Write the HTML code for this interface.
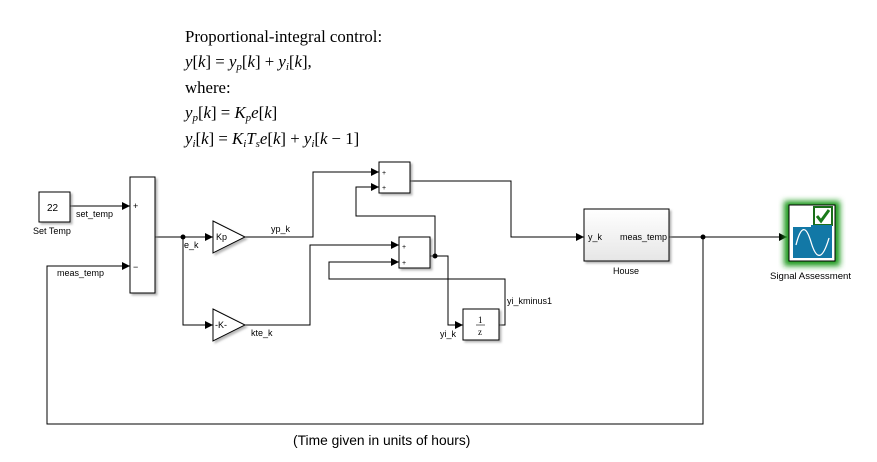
<!DOCTYPE html>
<html><head><meta charset="utf-8"><style>
html,body{margin:0;padding:0;background:#fff;}
svg{display:block;}
.s{font-family:"Liberation Sans",sans-serif;font-size:9px;fill:#000;}
.eq{font-family:"Liberation Serif",serif;font-size:16.8px;fill:#000;}
</style></head><body>
<svg width="877" height="462" viewBox="0 0 877 462" xmlns="http://www.w3.org/2000/svg">
<defs>
<marker id="a" markerWidth="8" markerHeight="8" refX="8" refY="4" orient="auto" markerUnits="userSpaceOnUse">
<path d="M0,0 L8,4 L0,8 z" fill="#000"/></marker>
<filter id="sh"><feDropShadow dx="2" dy="2" stdDeviation="1" flood-color="#888" flood-opacity="0.6"/></filter>
<filter id="gl"><feGaussianBlur stdDeviation="3"/></filter>
<linearGradient id="hg" x1="0" y1="0" x2="0" y2="1"><stop offset="0" stop-color="#fff"/><stop offset="1" stop-color="#e6e6e6"/></linearGradient>
</defs>
<text class="eq" x="185" y="42">Proportional-integral control:</text>
<text class="eq" x="185" y="67"><tspan font-style="italic">y</tspan>[<tspan font-style="italic">k</tspan>] = <tspan font-style="italic">y</tspan><tspan font-style="italic" font-size="11" dy="3">p</tspan><tspan dy="-3">[</tspan><tspan font-style="italic">k</tspan>] + <tspan font-style="italic">y</tspan><tspan font-style="italic" font-size="11" dy="3">i</tspan><tspan dy="-3">[</tspan><tspan font-style="italic">k</tspan>],</text>
<text class="eq" x="185" y="93">where:</text>
<text class="eq" x="185" y="118"><tspan font-style="italic">y</tspan><tspan font-style="italic" font-size="11" dy="3">p</tspan><tspan dy="-3">[</tspan><tspan font-style="italic">k</tspan>] = <tspan font-style="italic">K</tspan><tspan font-style="italic" font-size="11" dy="3">p</tspan><tspan font-style="italic" dy="-3">e</tspan>[<tspan font-style="italic">k</tspan>]</text>
<text class="eq" x="185" y="144"><tspan font-style="italic">y</tspan><tspan font-style="italic" font-size="11" dy="3">i</tspan><tspan dy="-3">[</tspan><tspan font-style="italic">k</tspan>] = <tspan font-style="italic">K</tspan><tspan font-style="italic" font-size="11" dy="3">i</tspan><tspan font-style="italic" dy="-3">T</tspan><tspan font-style="italic" font-size="11" dy="3">s</tspan><tspan font-style="italic" dy="-3">e</tspan>[<tspan font-style="italic">k</tspan>] + <tspan font-style="italic">y</tspan><tspan font-style="italic" font-size="11" dy="3">i</tspan><tspan dy="-3">[</tspan><tspan font-style="italic">k</tspan> − 1]</text>

<g fill="none" stroke="#000" stroke-width="1">
<path d="M70,206 H130" marker-end="url(#a)"/>
<path d="M703,237 V424 H47 V266 H130" marker-end="url(#a)"/>
<path d="M155,237 H213" marker-end="url(#a)"/>
<path d="M183,237 V325 H213" marker-end="url(#a)"/>
<path d="M245,237 H313 V172 H379" marker-end="url(#a)"/>
<path d="M245,325 H310 V245 H399" marker-end="url(#a)"/>
<path d="M430,256 H435 V216 H356 V187 H379" marker-end="url(#a)"/>
<path d="M435,256 H448 V325 H463" marker-end="url(#a)"/>
<path d="M499,325 H505 V279 H329 V262 H399" marker-end="url(#a)"/>
<path d="M410,181 H511 V237 H584" marker-end="url(#a)"/>
<path d="M669,237 H787" marker-end="url(#a)"/>
</g>
<circle cx="183" cy="237" r="2.5"/>
<circle cx="435" cy="256" r="2.5"/>
<circle cx="703" cy="237" r="2.5"/>

<g stroke="#000" stroke-width="1" fill="#fff" filter="url(#sh)">
<rect x="39" y="192" width="31" height="30"/>
<rect x="130" y="177" width="25" height="116"/>
<path d="M213,221 L245,237 L213,253 z"/>
<path d="M213,309 L245,325 L213,341 z"/>
<rect x="379" y="162" width="31" height="31"/>
<rect x="399" y="237" width="31" height="31"/>
<rect x="463" y="309" width="36" height="31"/>
<rect x="584" y="209" width="85" height="52" fill="url(#hg)"/>
</g>
<rect x="784" y="201" width="56" height="65" fill="#1a9a1a" filter="url(#gl)"/>
<rect x="789" y="205" width="46" height="56" fill="#fff" stroke="#000"/>
<rect x="814" y="207" width="18" height="18" fill="#fff" stroke="#1a6e1a" stroke-width="2"/>
<path d="M817,216 L821,221 L829,210" fill="none" stroke="#1a7a1a" stroke-width="3"/>
<path d="M793,227 H811 V225 H832 V258 H793 z" fill="#1278a6"/>
<path d="M796,245 C801,225 806,225 811,242 S822,262 829,238" fill="none" stroke="#fff" stroke-width="1.3"/>

<g class="s">
<text x="47" y="211" font-size="10">22</text>
<text x="33" y="234">Set Temp</text>
<text x="76" y="217">set_temp</text>
<text x="57" y="276">meas_temp</text>
<text x="133" y="209">+</text>
<text x="133" y="270">−</text>
<text x="184" y="248">e_k</text>
<text x="216" y="240">Kp</text>
<text x="215" y="328">-K-</text>
<text x="271" y="232">yp_k</text>
<text x="251" y="336">kte_k</text>
<text x="382" y="175" font-size="7">+</text>
<text x="382" y="190" font-size="7">+</text>
<text x="402" y="249" font-size="7">+</text>
<text x="402" y="265" font-size="7">+</text>
<text x="478" y="323" font-family="Liberation Serif" font-size="9">1</text>
<line x1="476" y1="325" x2="485" y2="325" stroke="#000" stroke-width="0.6"/>
<text x="478" y="335" font-family="Liberation Serif" font-size="9">z</text>
<text x="440" y="337">yi_k</text>
<text x="507" y="304">yi_kminus1</text>
<text x="588" y="240">y_k</text>
<text x="620" y="240">meas_temp</text>
<text x="613" y="274">House</text>
<text x="770" y="279" font-size="9.6">Signal Assessment</text>
<text x="293" y="445" font-size="13.8">(Time given in units of hours)</text>
</g>
</svg>
</body></html>
